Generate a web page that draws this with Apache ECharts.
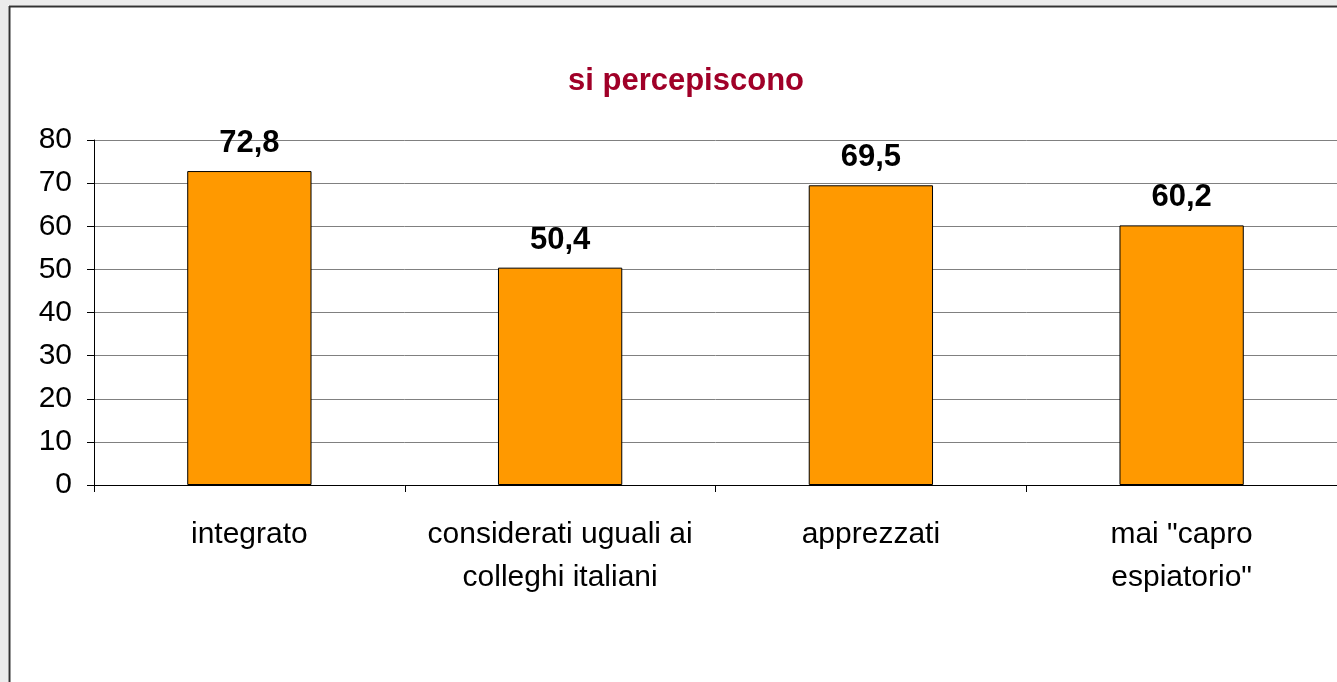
<!DOCTYPE html>
<html>
<head>
<meta charset="utf-8">
<script src="https://cdn.jsdelivr.net/npm/echarts@6/dist/echarts.min.js"></script>
<style>
  html, body { margin: 0; padding: 0; background: #fff; }
  #chart { width: 1337px; height: 682px; }
</style>
</head>
<body>
<div id="chart"></div>
<script>
var categories = ['integrato', 'considerati uguali ai\ncolleghi italiani', 'apprezzati', 'mai "capro\nespiatorio"']
var values = [72.8, 50.4, 69.5, 60.2]
var yTicks = [0, 10, 20, 30, 40, 50, 60, 70, 80]

var chart = echarts.init(document.getElementById('chart'))

var option = {
  backgroundColor: '#fff',
  animation: false,
  title: {
    text: 'si percepiscono',
    left: 681,
    textAlign: 'center',
    top: 61,
    textStyle: {
      color: '#a00028',
      fontFamily: 'Liberation Sans, Arial',
      fontWeight: 'bold',
      fontSize: 31
    }
  },
  graphic: [
    // strip on the far left and top
    { type: 'rect', left: 0, top: 0, shape: { width: 8, height: 682 }, style: { fill: '#ececec' }, z: -10 },
    { type: 'rect', left: 0, top: 0, shape: { width: 1337, height: 5 }, style: { fill: '#ececec' }, z: -10 },
    // frame
    { type: 'line', shape: { x1: 9.5, y1: 6, x2: 9.5, y2: 682 }, style: { stroke: '#333', lineWidth: 2 }, z: -5 },
    { type: 'line', shape: { x1: 9, y1: 6.5, x2: 1337, y2: 6.5 }, style: { stroke: '#333', lineWidth: 2 }, z: -5 }
  ],
  grid: {
    left: 94,
    right: -1,
    top: 140,
    bottom: 197
  },
  xAxis: {
    type: 'category',
    data: categories,
    axisLine: { lineStyle: { color: '#000', width: 1 } },
    axisTick: { show: true, interval: 0, length: 7, lineStyle: { color: '#000' } },
    axisLabel: {
      interval: 0,
      hideOverlap: false,
      color: '#000',
      fontFamily: 'Liberation Sans, Arial',
      fontSize: 30,
      lineHeight: 43,
      margin: 28
    }
  },
  yAxis: {
    type: 'value',
    min: 0,
    max: 80,
    interval: 10,
    axisLine: { show: true, lineStyle: { color: '#000', width: 1 } },
    axisTick: { show: true, length: 7, lineStyle: { color: '#000' } },
    splitLine: { lineStyle: { color: '#808080', width: 1 } },
    axisLabel: {
      color: '#000',
      fontFamily: 'Liberation Sans, Arial',
      fontSize: 30,
      margin: 22,
      formatter: function (v) { return yTicks.indexOf(v) >= 0 ? String(v) : '' }
    }
  },
  series: [
    {
      type: 'bar',
      data: values,
      barWidth: '40%',
      itemStyle: {
        color: '#ff9900',
        borderColor: '#000',
        borderWidth: 1
      },
      label: {
        show: true,
        position: 'top',
        distance: 12,
        color: '#000',
        fontFamily: 'Liberation Sans, Arial',
        fontWeight: 'bold',
        fontSize: 31,
        formatter: function (p) { return String(p.value).replace('.', ',') }
      }
    }
  ]
}

chart.setOption(option)
</script>
</body>
</html>
